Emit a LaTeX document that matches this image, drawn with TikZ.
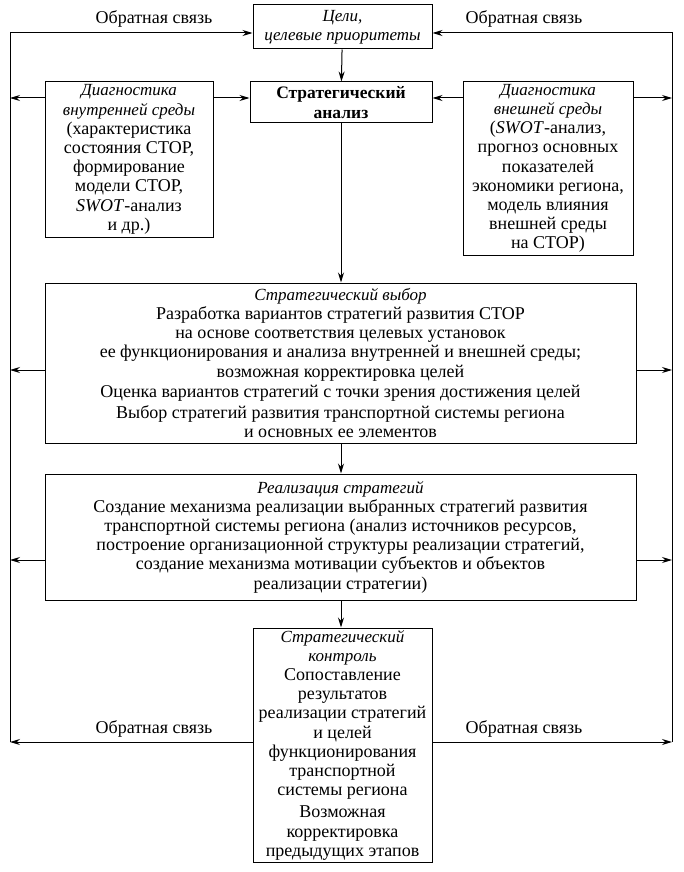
\documentclass[tikz,border=0pt]{standalone}
\usepackage{fontspec}
\setmainfont{Liberation Serif}
\usetikzlibrary{arrows.meta}
\newcommand{\ith}[1]{{\fontsize{17}{19}\selectfont\itshape #1}}
\newcommand{\bfh}[1]{{\fontsize{17.5}{19}\selectfont\bfseries #1}}
\begin{document}
\begin{tikzpicture}[x=1pt,y=-1pt,
  box/.style={draw,line width=1pt,align=center,inner sep=0pt,
    font=\fontsize{18}{19.2}\selectfont},
  arr/.style={line width=1pt,-{Stealth[length=10pt,width=6pt]}},
  lbl/.style={font=\fontsize{18}{19}\selectfont}]
\useasboundingbox (0,0) rectangle (683,872);
\node[box,minimum width=179pt,minimum height=44pt] (goals) at (342.5,27)
  {\ith{Цели,}\\\ith{целевые приоритеты}};
\node[box,minimum width=182pt,minimum height=41pt] (analysis) at (341,102.5)
  {\bfh{Стратегический}\\\bfh{анализ}};
\node[box,minimum width=168pt,minimum height=155pt] (intdiag) at (129,159.5)
  {\ith{Диагностика}\\\ith{внутренней среды}\\(характеристика\\состояния СТОР,\\формирование\\модели СТОР,\\\textit{SWOT}-анализ\\и др.)};
\node[box,minimum width=170pt,minimum height=173pt] (extdiag) at (548,168.5)
  {\ith{Диагностика}\\\ith{внешней среды}\\(\textit{SWOT}-анализ,\\прогноз основных\\показателей\\экономики региона,\\модель влияния\\внешней среды\\на СТОР)};
\node[box,minimum width=591pt,minimum height=160pt] (choice) at (340.5,363)
  {\ith{Стратегический выбор}\\Разработка вариантов стратегий развития СТОР\\на основе соответствия целевых установок\\ее функционирования и анализа внутренней и внешней среды;\\возможная корректировка целей\\[1.5pt]Оценка вариантов стратегий с точки зрения достижения целей\\[1.5pt]Выбор стратегий развития транспортной системы региона\\и основных ее элементов};
\node[box,minimum width=591pt,minimum height=126pt] (realize) at (340.5,537)
  {\ith{Реализация стратегий}\\Создание механизма реализации выбранных стратегий развития\\транспортной системы региона (анализ источников ресурсов,\\построение организационной структуры реализации стратегий,\\создание механизма мотивации субъектов и объектов\\реализации стратегии)};
\node[box,minimum width=179pt,minimum height=234pt] (control) at (342.5,745)
  {\ith{Стратегический}\\\ith{контроль}\\Сопоставление\\результатов\\реализации стратегий\\и целей\\функционирования\\транспортной\\системы региона\\[3pt]Возможная\\корректировка\\предыдущих этапов};
% left / right feedback line coordinates
\coordinate (Ltop) at (10,33);
\coordinate (Rtop) at (672,33);
\coordinate (L1) at (10,98);
\coordinate (R1) at (672,98);
\coordinate (L2) at (10,370);
\coordinate (R2) at (672,370);
\coordinate (L3) at (10,560);
\coordinate (R3) at (672,560);
\coordinate (Lbot) at (10,742);
\coordinate (Rbot) at (672,742);
% main chain
\draw[arr] (goals) -- (analysis);
\draw[arr] (analysis) -- (analysis |- choice.north);
\draw[arr] (analysis |- choice.south) -- (analysis |- realize.north);
\draw[arr] (analysis |- realize.south) -- (analysis |- control.north);
\draw[arr] (intdiag.east |- L1) -- (analysis.west |- L1);
\draw[arr] (extdiag.west |- R1) -- (analysis.east |- R1);
% feedback
\draw[arr] (Lbot) -- (Ltop) -- (goals.west |- Ltop);
\draw[arr] (Rbot) -- (Rtop) -- (goals.east |- Rtop);
\draw[arr] (intdiag.west |- L1) -- (L1);
\draw[arr] (extdiag.east |- R1) -- (R1);
\draw[arr] (choice.west |- L2) -- (L2);
\draw[arr] (choice.east |- R2) -- (R2);
\draw[arr] (realize.west |- L3) -- (L3);
\draw[arr] (realize.east |- R3) -- (R3);
\draw[arr] (control.west |- Lbot) -- (Lbot);
\draw[arr] (control.east |- Rbot) -- (Rbot);
\node[lbl] (fb1) at (154,19) {Обратная связь};
\node[lbl] (fb2) at (524,19) {Обратная связь};
\node[lbl] (fb3) at (154,729) {Обратная связь};
\node[lbl] (fb4) at (524,729) {Обратная связь};
\end{tikzpicture}
\end{document}
